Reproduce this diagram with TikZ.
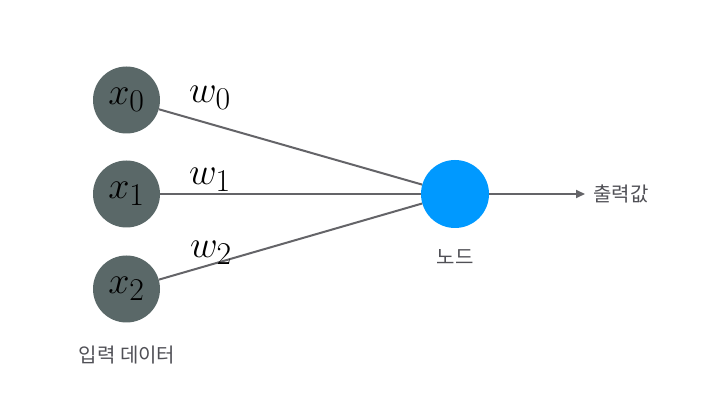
\documentclass[tikz,border=0pt]{standalone}
\usepackage{graphicx}
\usepackage{fontspec}
\newfontfamily\kr{Noto Sans CJK KR}
\usetikzlibrary{arrows.meta}
\definecolor{ingray}{RGB}{90,104,104}
\definecolor{nodeblue}{RGB}{0,153,255}
\definecolor{linegray}{RGB}{100,100,104}
\definecolor{txtgray}{RGB}{80,80,86}
\newcommand{\mybigmath}[1]{\scalebox{1.53}{$#1$}}
\begin{document}
\begin{tikzpicture}[x=1pt,y=1pt,
  inp/.style={circle,fill=ingray,minimum size=67pt,inner sep=0pt,font=\Huge},
  outn/.style={circle,fill=nodeblue,minimum size=68pt,inner sep=0pt},
  conn/.style={draw=linegray,line width=2pt},
  wlab/.style={font=\Huge},
  krlab/.style={text=txtgray,font=\kr\fontsize{20}{22}\selectfont}]
\useasboundingbox[fill=white] (0,0) rectangle (725,415);
\node[inp] (x0) at (126.5,315) {\mybigmath{x_0}};
\node[inp] (x1) at (126.5,221) {\mybigmath{x_1}};
\node[inp] (x2) at (126.5,126) {\mybigmath{x_2}};
\node[outn] (n) at (455,221) {};
\coordinate (o) at (585,221);
\draw[conn] (x0) -- (n);
\draw[conn] (x1) -- (n);
\draw[conn] (x2) -- (n);
\draw[conn,-{Triangle[length=9pt,width=8pt]}] (n) -- (o);
\node[wlab] (w0) at (210,317) {\mybigmath{w_0}};
\node[wlab] (w1) at (210,235) {\mybigmath{w_1}};
\node[wlab] (w2) at (211,162) {\mybigmath{w_2}};
\node[krlab,anchor=west] (out) at (590,221) {출력값};
\node[krlab] (nl) at (455,158) {노드};
\node[krlab] (il) at (127,60) {입력 데이터};
\end{tikzpicture}
\end{document}
